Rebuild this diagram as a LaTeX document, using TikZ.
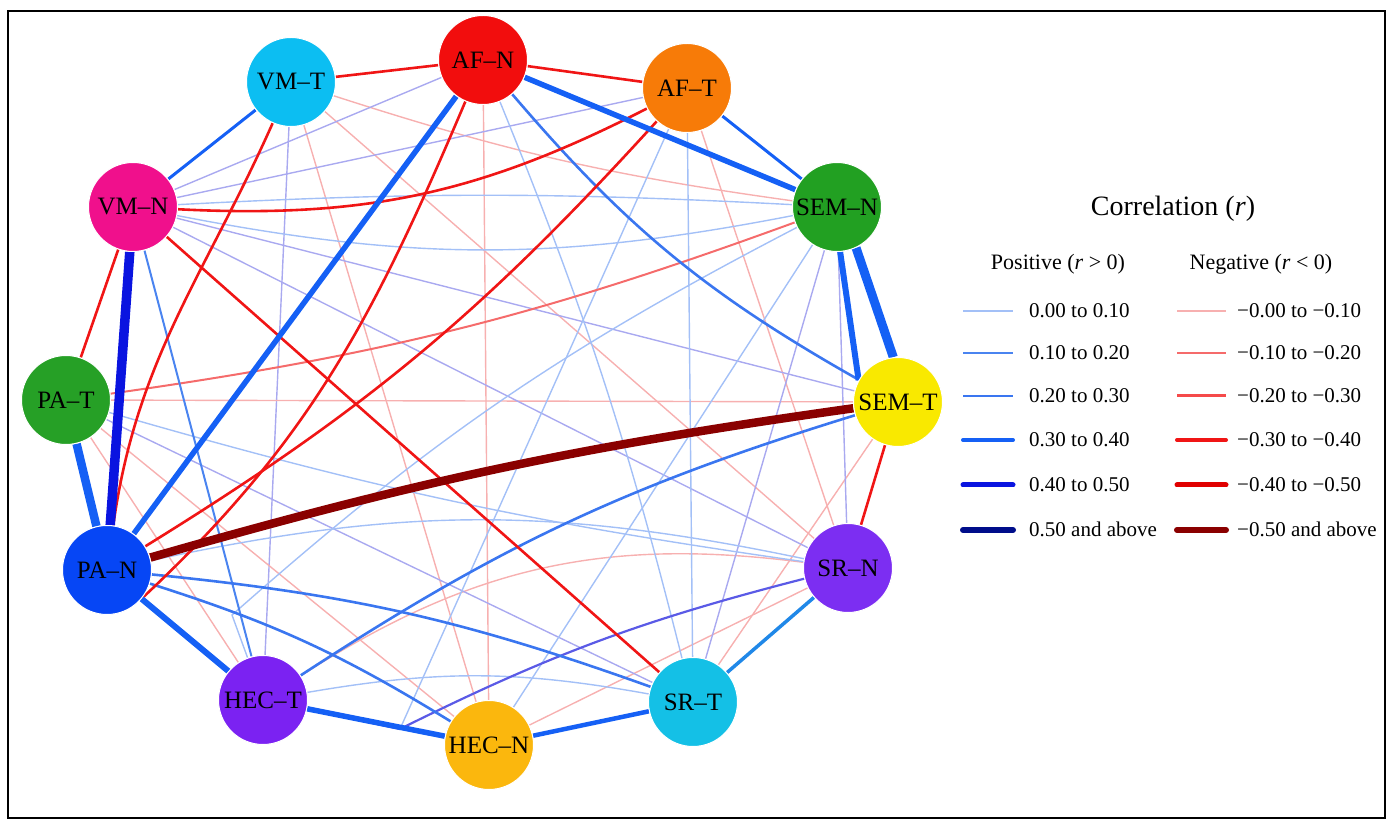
\documentclass[tikz,border=0pt]{standalone}
\usepackage{fontspec}
\setmainfont{Liberation Serif}
\usetikzlibrary{backgrounds}

\definecolor{afn}{HTML}{F20D0D}
\definecolor{aft}{HTML}{F77B08}
\definecolor{semn}{HTML}{22A022}
\definecolor{semt}{HTML}{F9E900}
\definecolor{srn}{HTML}{7C2EF2}
\definecolor{srt}{HTML}{14C0E6}
\definecolor{hecn}{HTML}{FBB70D}
\definecolor{hect}{HTML}{7B22F2}
\definecolor{pan}{HTML}{0646F5}
\definecolor{pat}{HTML}{26A026}
\definecolor{vmn}{HTML}{F0108C}
\definecolor{vmt}{HTML}{0CBEF2}

\definecolor{rpos1}{HTML}{A3C0F7}
\definecolor{rpos1v}{HTML}{A9A9F0}
\definecolor{rpos2}{HTML}{4A84F0}
\definecolor{rpos2v}{HTML}{5A5AE6}
\definecolor{rpos3}{HTML}{3A76F0}
\definecolor{rpos3c}{HTML}{2088E8}
\definecolor{rpos4}{HTML}{1560F5}
\definecolor{rpos5}{HTML}{0A14E0}
\definecolor{rpos6}{HTML}{000D8A}
\definecolor{rneg1}{HTML}{F7B0B0}
\definecolor{rneg2}{HTML}{F56B6B}
\definecolor{rneg3}{HTML}{F54A4A}
\definecolor{rneg4}{HTML}{F01515}
\definecolor{rneg5}{HTML}{E00000}
\definecolor{rneg6}{HTML}{8A0000}

\begin{document}
\begin{tikzpicture}[x=1pt, y=1pt,
  factor/.style={circle, draw=white, line width=1pt, minimum size=89pt, inner sep=0pt, font=\fontsize{25}{30}\selectfont},
  pos1/.style={draw=rpos1, line width=1.4pt},
  pos1v/.style={draw=rpos1v, line width=1.4pt},
  pos2/.style={draw=rpos2, line width=2pt},
  pos2v/.style={draw=rpos2v, line width=2.2pt},
  pos3/.style={draw=rpos3, line width=2.6pt},
  pos3c/.style={draw=rpos3c, line width=3.5pt},
  pos4/.style={draw=rpos4, line width=4pt},
  pos5/.style={draw=rpos5, line width=5pt},
  pos6/.style={draw=rpos6, line width=6pt},
  neg1/.style={draw=rneg1, line width=1.4pt},
  neg2/.style={draw=rneg2, line width=2pt},
  neg3/.style={draw=rneg3, line width=3pt},
  neg4/.style={draw=rneg4, line width=2.6pt},
  neg5/.style={draw=rneg5, line width=5pt},
  neg6/.style={draw=rneg6, line width=6pt},
  legtext/.style={anchor=base west, inner sep=0pt, font=\fontsize{21}{24}\selectfont},
  leghead/.style={anchor=base, inner sep=0pt, font=\fontsize{22}{26}\selectfont}]
  \useasboundingbox (0,0) rectangle (1393,829);

  \node[factor, fill=afn] (AFN) at (483,769) {AF--N};
  \node[factor, fill=aft] (AFT) at (687,741) {AF--T};
  \node[factor, fill=semn] (SEMN) at (837,622) {SEM--N};
  \node[factor, fill=semt] (SEMT) at (898,427) {SEM--T};
  \node[factor, fill=srn] (SRN) at (848,261) {SR--N};
  \node[factor, fill=srt] (SRT) at (693,127) {SR--T};
  \node[factor, fill=hecn] (HECN) at (489,84) {HEC--N};
  \node[factor, fill=hect] (HECT) at (263,129) {HEC--T};
  \node[factor, fill=pan] (PAN) at (107,259) {PA--N};
  \node[factor, fill=pat] (PAT) at (66,429) {PA--T};
  \node[factor, fill=vmn] (VMN) at (133,622) {VM--N};
  \node[factor, fill=vmt] (VMT) at (291,747) {VM--T};
  \coordinate (kh) at (400,100);
  \coordinate (kb) at (232,214);

  \begin{scope}[on background layer]
  \draw[neg1] (AFN) -- (HECN);
  \draw[neg1] (VMT) -- (HECN);
  \draw[pos1v] (VMT) -- (HECT);
  \draw[neg1] (PAT) -- (SEMT);
  \draw[neg1] (PAT) -- (HECN);
  \draw[neg1] (PAT) -- (HECT);
  \draw[neg1] (AFT) -- (SRN);
  \draw[neg1] (HECN) -- (SRN);
  \draw[neg1] (SEMT) -- (SRT);
  \draw[neg1] (VMT) -- (SRN);
  \draw[neg1] (VMT) to[bend right=5] (SEMN);
  \draw[neg1] (HECT) to[bend left=20] (SRN);
  \draw[pos1v] (VMN) -- (SEMT);
  \draw[pos1v] (VMN) -- (SRN);
  \draw[pos1v] (AFN) -- (VMN);
  \draw[pos1v] (AFT) -- (VMN);
  \draw[pos1v] (SEMN) -- (SRN);
  \draw[pos1v] (SEMN) -- (SRT);
  \draw[pos1v] (PAT) -- (SRT);
  \draw[pos1] (VMN) to[bend left=3] (SEMN);
  \draw[pos1] (VMN) to[bend right=11] (SEMN);
  \draw[pos1] (AFN) to[bend left=4] (SRT);
  \draw[pos1] (AFT) -- (SRT);
  \draw[pos1] (AFT) -- (kh) -- (HECT);
  \draw[pos1] (SEMN) to[bend right=7] (kb) -- (HECT);
  \draw[pos1] (HECN) -- (SEMN);
  \draw[pos1] (PAT) to[bend right=4] (SRN);
  \draw[pos1] (PAN) to[bend left=12] (SRN);
  \draw[pos1] (HECT) to[bend left=10] (SRT);

  \draw[neg2] (PAT) to[bend right=6] (SEMN);
  \draw[pos2] (VMN) -- (HECT);
  \draw[pos2v] (SRN) to[bend right=6] (kh) -- (HECT);
  \draw[pos3] (AFN) to[bend right=10] (SEMT);
  \draw[pos3] (HECT) to[bend left=8] (SEMT);
  \draw[pos3] (PAN) to[bend left=7] (SRT);
  \draw[pos3] (PAN) to[bend left=7] (HECN);

  \draw[neg4] (VMT) -- (AFN);
  \draw[neg4] (AFN) -- (AFT);
  \draw[neg4] (SEMT) -- (SRN);
  \draw[neg4] (PAT) -- (VMN);
  \draw[neg4] (VMN) to[bend right=15] (AFT);
  \draw[neg4] (VMN) -- (SRT);
  \draw[neg4] (VMT) to[out=246, in=82] (PAN);
  \draw[neg4] (PAN) to[bend right=8] (AFT);
  \draw[neg4] (PAN.-39) to[out=43, in=-113] (AFN);

  \draw[pos4, line width=3pt] (VMN) -- (VMT);
  \draw[pos4, line width=3pt] (AFT) -- (SEMN);
  \draw[pos3c] (SRN) -- (SRT);
  \draw[pos4, line width=4.5pt] (SRT) -- (HECN);
  \draw[pos4, line width=5.5pt] (HECN) -- (HECT);
  \draw[pos4, line width=6pt] (HECT) -- (PAN);
  \draw[pos4, line width=5.5pt] (PAN) -- (AFN);
  \draw[pos4, line width=5.5pt] (AFN) -- (SEMN);
  \draw[pos4, line width=6pt] (SEMN.-86) -- (SEMT.151);
  \draw[pos4, line width=9pt] (SEMN.-65) -- (SEMT.96);
  \draw[pos4, line width=8.5pt] (PAT) -- (PAN);
  \draw[pos5, line width=9.5pt] (VMN) -- (PAN);
  \draw[neg6, line width=8.5pt] (PAN) to[bend left=4] (SEMT);
  \end{scope}

  \node[anchor=base, inner sep=0pt, font=\fontsize{28}{32}\selectfont] (title) at (1173,613) {Correlation (\textit{r})};
  \node[leghead] (poshead) at (1058,559) {Positive (\textit{r} > 0)};
  \node[leghead] (neghead) at (1261,559) {Negative (\textit{r} < 0)};

  \node[legtext] (p1) at (1029,511) {0.00 to 0.10};
  \node[legtext] (p2) at (1029,469) {0.10 to 0.20};
  \node[legtext] (p3) at (1029,426) {0.20 to 0.30};
  \node[legtext] (p4) at (1029,382) {0.30 to 0.40};
  \node[legtext] (p5) at (1029,337) {0.40 to 0.50};
  \node[legtext] (p6) at (1029,292) {0.50 and above};
  \node[legtext] (n1) at (1237,511) {−0.00 to −0.10};
  \node[legtext] (n2) at (1237,469) {−0.10 to −0.20};
  \node[legtext] (n3) at (1237,426) {−0.20 to −0.30};
  \node[legtext] (n4) at (1237,382) {−0.30 to −0.40};
  \node[legtext] (n5) at (1237,337) {−0.40 to −0.50};
  \node[legtext] (n6) at (1237,292) {−0.50 and above};

  \draw[pos1] ([shift={(-66,7)}]p1.base west) -- ([shift={(-16,7)}]p1.base west);
  \draw[pos2] ([shift={(-66,7)}]p2.base west) -- ([shift={(-16,7)}]p2.base west);
  \draw[pos3] ([shift={(-66,7)}]p3.base west) -- ([shift={(-16,7)}]p3.base west);
  \draw[pos4, line cap=round] ([shift={(-66,7)}]p4.base west) -- ([shift={(-16,7)}]p4.base west);
  \draw[pos5, line cap=round] ([shift={(-66,7)}]p5.base west) -- ([shift={(-16,7)}]p5.base west);
  \draw[pos6, line cap=round] ([shift={(-66,7)}]p6.base west) -- ([shift={(-16,7)}]p6.base west);
  \draw[neg1] ([shift={(-60,7)}]n1.base west) -- ([shift={(-11,7)}]n1.base west);
  \draw[neg2] ([shift={(-60,7)}]n2.base west) -- ([shift={(-11,7)}]n2.base west);
  \draw[neg3] ([shift={(-60,7)}]n3.base west) -- ([shift={(-11,7)}]n3.base west);
  \draw[neg4, line width=4pt, line cap=round] ([shift={(-60,7)}]n4.base west) -- ([shift={(-11,7)}]n4.base west);
  \draw[neg5, line cap=round] ([shift={(-60,7)}]n5.base west) -- ([shift={(-11,7)}]n5.base west);
  \draw[neg6, line cap=round] ([shift={(-60,7)}]n6.base west) -- ([shift={(-11,7)}]n6.base west);

  \draw[line width=2.2pt] (8,11) rectangle (1385,818);
\end{tikzpicture}
\end{document}
